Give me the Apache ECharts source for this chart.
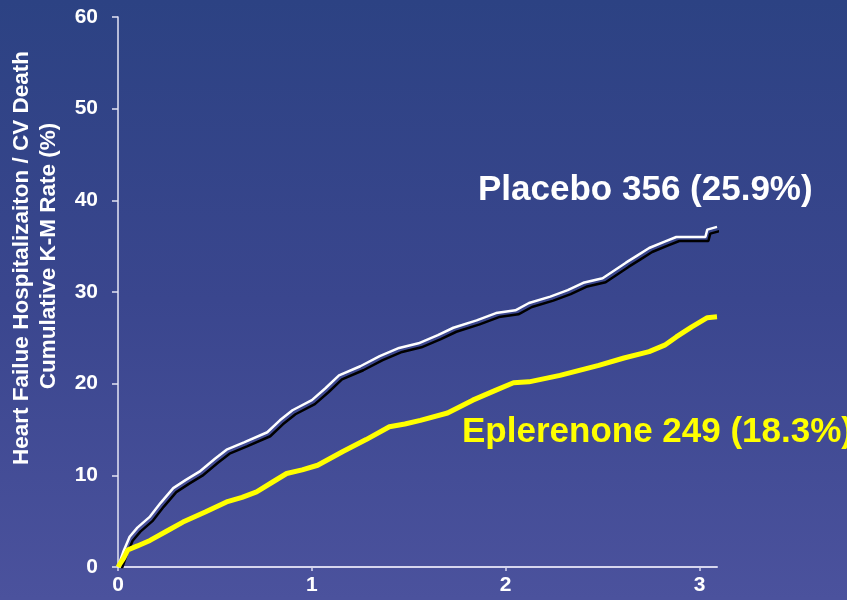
<!DOCTYPE html>
<html>
<head>
<meta charset="utf-8">
<script src="https://cdn.jsdelivr.net/npm/echarts@6/dist/echarts.min.js"></script>
<style>
  html, body { margin: 0; padding: 0; }
  #chart { width: 847px; height: 600px; }
</style>
</head>
<body>
<div id="chart"></div>
<script>
// years of follow-up vs cumulative K-M rate (%)
const placeboTime = [0, 0.03, 0.06, 0.1, 0.165, 0.22, 0.285, 0.35, 0.42, 0.5, 0.56, 0.65, 0.77, 0.835, 0.9, 1.0, 1.07, 1.14, 1.25, 1.35, 1.45, 1.55, 1.65, 1.73, 1.85, 1.95, 2.05, 2.12, 2.23, 2.32, 2.4, 2.5, 2.62, 2.68, 2.74, 2.82, 2.88, 3.03, 3.04, 3.09]
const placeboRate = [0, 1.8, 3.3, 4.3, 5.5, 7.0, 8.6, 9.5, 10.4, 11.8, 12.8, 13.6, 14.7, 16.0, 17.1, 18.2, 19.5, 20.9, 21.9, 23.0, 23.9, 24.4, 25.3, 26.1, 26.9, 27.7, 28.0, 28.8, 29.5, 30.2, 31.0, 31.5, 33.2, 34.0, 34.8, 35.5, 36.0, 36.0, 36.8, 37.1]

const epleTime = [0, 0.03, 0.05, 0.1, 0.165, 0.25, 0.335, 0.45, 0.56, 0.64, 0.715, 0.8, 0.87, 0.95, 1.03, 1.16, 1.28, 1.4, 1.48, 1.56, 1.7, 1.83, 1.95, 2.04, 2.12, 2.28, 2.48, 2.61, 2.74, 2.82, 2.88, 2.96, 3.04, 3.09]
const epleRate = [0, 1.0, 1.85, 2.3, 2.9, 3.9, 4.9, 6.0, 7.1, 7.6, 8.2, 9.3, 10.2, 10.6, 11.1, 12.6, 13.9, 15.3, 15.6, 16.0, 16.8, 18.2, 19.3, 20.1, 20.2, 20.9, 22.0, 22.8, 23.5, 24.2, 25.1, 26.2, 27.2, 27.3]

const xTicks = [0, 1, 2, 3]
const yTicks = [0, 10, 20, 30, 40, 50, 60]

const yTitle1 = 'Heart Failue Hospitalizaiton / CV Death'
const yTitle2 = 'Cumulative K-M Rate (%)'
const placeboLabel = 'Placebo 356 (25.9%)'
const epleLabel = 'Eplerenone 249 (18.3%)'

const font = '"Liberation Sans", Arial, sans-serif'

const zip = (xs, ys) => xs.map((x, i) => [x, ys[i]])

const chart = echarts.init(document.getElementById('chart'))

const option = {
  animation: false,
  backgroundColor: {
    type: 'linear', x: 0, y: 0, x2: 0, y2: 1,
    colorStops: [
      { offset: 0, color: '#2c4283' },
      { offset: 0.5, color: '#3a468e' },
      { offset: 1, color: '#4b529d' }
    ]
  },
  grid: { left: 118, top: 17, right: 130, bottom: 33, containLabel: false },
  xAxis: {
    type: 'value',
    min: 0,
    max: 3.09,
    interval: 1,
    splitLine: { show: false },
    axisLine: { lineStyle: { color: '#d6d6ee', width: 2 } },
    axisTick: { show: true, length: 4, lineStyle: { color: '#d6d6ee', width: 1.5 } },
    axisLabel: {
      color: '#ffffff', fontSize: 21, fontWeight: 'bold', fontFamily: font, margin: 8,
      showMaxLabel: false,
      formatter: (v) => (xTicks.includes(v) ? String(v) : '')
    }
  },
  yAxis: {
    type: 'value',
    min: 0,
    max: 60,
    interval: 10,
    splitLine: { show: false },
    axisLine: { show: true, lineStyle: { color: '#e4e4f4', width: 1.5 } },
    axisTick: { show: true, length: 6, lineStyle: { color: '#e4e4f4', width: 1.5 } },
    axisLabel: {
      color: '#ffffff', fontSize: 21, fontWeight: 'bold', fontFamily: font, margin: 20,
      formatter: (v) => (yTicks.includes(v) ? String(v) : '')
    }
  },
  graphic: [
    {
      type: 'text', x: 22, y: 258, rotation: Math.PI / 2,
      style: { text: yTitle1, fill: '#ffffff', font: 'bold 22.5px ' + font, align: 'center', verticalAlign: 'middle' }
    },
    {
      type: 'text', x: 49, y: 256, rotation: Math.PI / 2,
      style: { text: yTitle2, fill: '#ffffff', font: 'bold 22.5px ' + font, align: 'center', verticalAlign: 'middle' }
    },
    {
      type: 'text', x: 478, y: 190,
      style: { text: placeboLabel, fill: '#ffffff', font: 'bold 35px ' + font, align: 'left', verticalAlign: 'middle' }
    },
    {
      type: 'text', x: 462, y: 432,
      style: { text: epleLabel, fill: '#ffff00', font: 'bold 35px ' + font, align: 'left', verticalAlign: 'middle' }
    }
  ],
  series: [
    {
      name: 'Placebo',
      type: 'line',
      data: zip(placeboTime, placeboRate),
      showSymbol: false,
      lineStyle: {
        color: '#ffffff', width: 2.5,
        shadowColor: '#000000', shadowOffsetX: 3, shadowOffsetY: 4, shadowBlur: 0
      },
      z: 2
    },
    {
      name: 'Eplerenone',
      type: 'line',
      data: zip(epleTime, epleRate),
      showSymbol: false,
      lineStyle: { color: '#ffff00', width: 5 },
      z: 3
    }
  ]
}

chart.setOption(option)
</script>
</body>
</html>
